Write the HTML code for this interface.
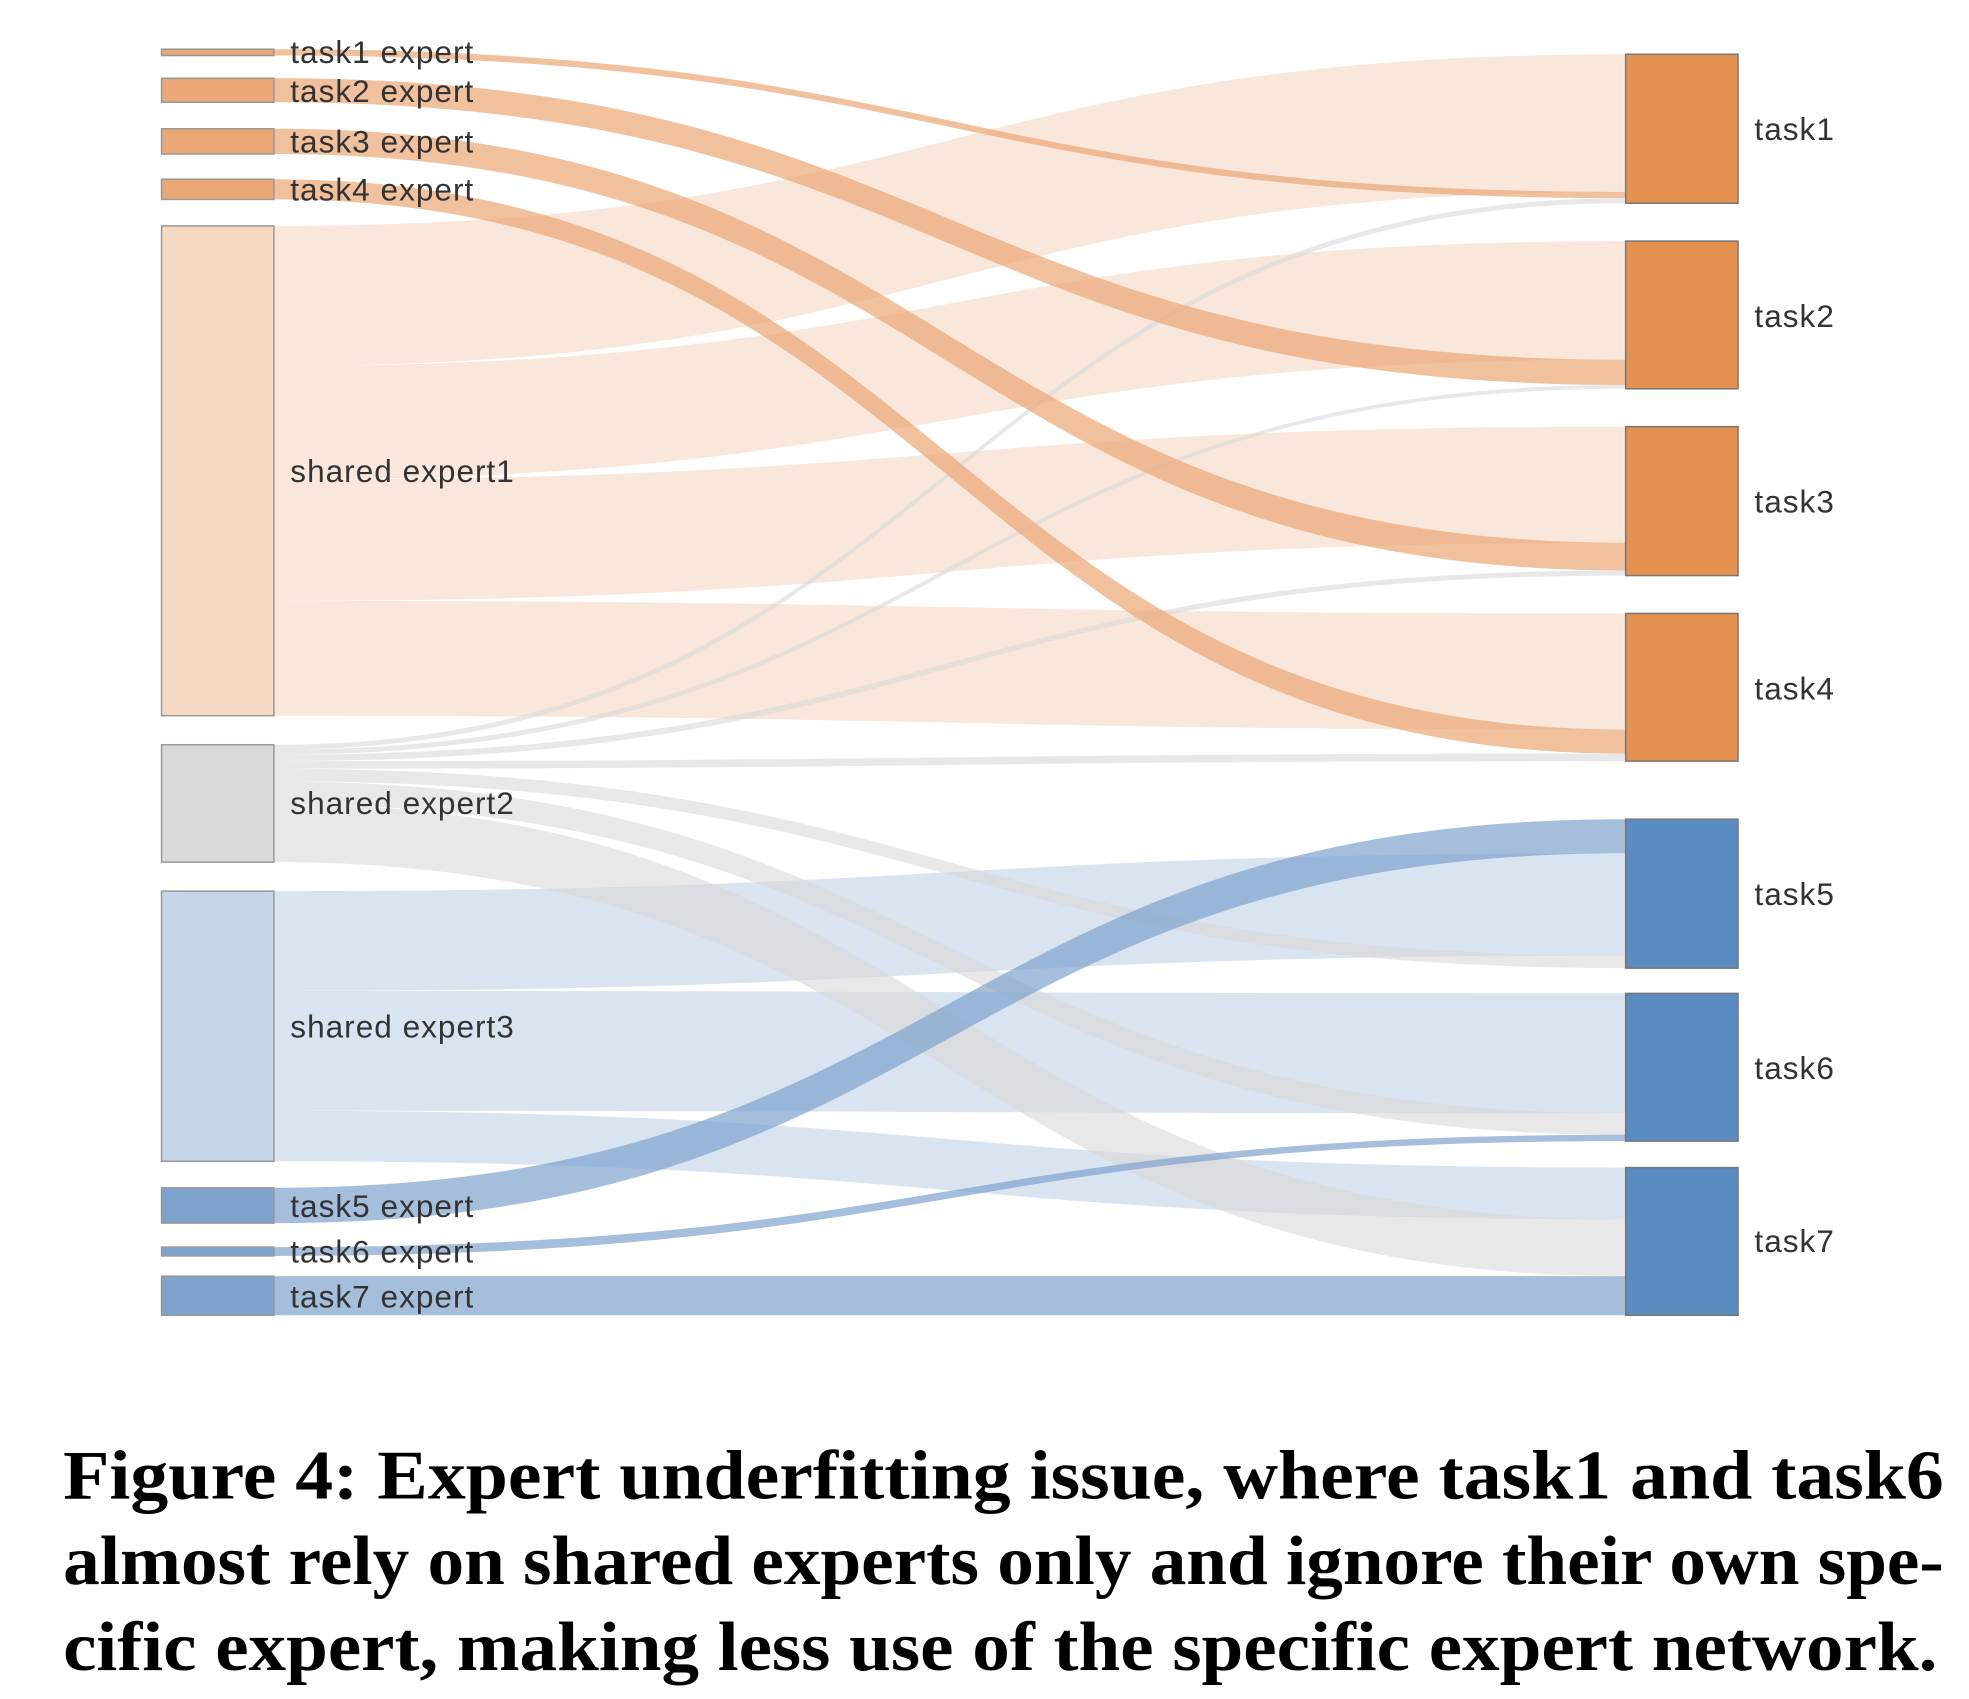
<!DOCTYPE html>
<html><head><meta charset="utf-8"><style>
html,body{margin:0;padding:0;background:#fff;width:1969px;height:1699px;overflow:hidden}
svg{display:block}
.l{font-family:"Liberation Sans",sans-serif;font-size:25px;letter-spacing:0.8px;fill:#333}
.c{font-family:"Liberation Serif",serif;font-weight:bold;font-size:55px;fill:#000}
</style></head><body>
<svg width="1969" height="1699" viewBox="0 0 1560 1346" preserveAspectRatio="none" xmlns="http://www.w3.org/2000/svg">
<g>
<path fill="#f7e4d6" opacity="0.9" d="M217,179 C752,179 752,43 1288,43 L1288,152 C752,152 752,290 217,290 Z"/>
<path fill="#f7e4d6" opacity="0.9" d="M217,290 C752,290 752,191 1288,191 L1288,285 C752,285 752,380 217,380 Z"/>
<path fill="#f7e4d6" opacity="0.9" d="M217,380 C752,380 752,338 1288,338 L1288,430 C752,430 752,476 217,476 Z"/>
<path fill="#f7e4d6" opacity="0.9" d="M217,476 C752,476 752,486 1288,486 L1288,578 C752,578 752,567 217,567 Z"/>
<path fill="#d8e3ef" opacity="0.95" d="M217,706 C752,706 752,676 1288,676 L1288,757 C752,757 752,785 217,785 Z"/>
<path fill="#d8e3ef" opacity="0.95" d="M217,785 C752,785 752,787 1288,787 L1288,882 C752,882 752,880 217,880 Z"/>
<path fill="#d8e3ef" opacity="0.95" d="M217,880 C752,880 752,925 1288,925 L1288,966 C752,966 752,920 217,920 Z"/>
<path fill="#d9d9d9" opacity="0.6" d="M217,590 C752,590 752,157 1288,157 L1288,161 C752,161 752,594 217,594 Z"/>
<path fill="#d9d9d9" opacity="0.6" d="M217,594 C752,594 752,305 1288,305 L1288,308 C752,308 752,598 217,598 Z"/>
<path fill="#d9d9d9" opacity="0.6" d="M217,598 C752,598 752,452 1288,452 L1288,456 C752,456 752,603 217,603 Z"/>
<path fill="#d9d9d9" opacity="0.6" d="M217,603 C752,603 752,597 1288,597 L1288,603 C752,603 752,609 217,609 Z"/>
<path fill="#d9d9d9" opacity="0.6" d="M217,609 C752,609 752,757 1288,757 L1288,767 C752,767 752,619 217,619 Z"/>
<path fill="#d9d9d9" opacity="0.6" d="M217,619 C752,619 752,882 1288,882 L1288,899 C752,899 752,637 217,637 Z"/>
<path fill="#d9d9d9" opacity="0.6" d="M217,637 C752,637 752,966 1288,966 L1288,1011 C752,1011 752,683 217,683 Z"/>
<path fill="#eba775" opacity="0.7" d="M217,39 C752,39 752,152 1288,152 L1288,157 C752,157 752,44 217,44 Z"/>
<path fill="#eba775" opacity="0.7" d="M217,62 C752,62 752,285 1288,285 L1288,305 C752,305 752,81 217,81 Z"/>
<path fill="#eba775" opacity="0.7" d="M217,102 C752,102 752,430 1288,430 L1288,452 C752,452 752,122 217,122 Z"/>
<path fill="#eba775" opacity="0.7" d="M217,142 C752,142 752,578 1288,578 L1288,597 C752,597 752,158 217,158 Z"/>
<path fill="#7ea3cd" opacity="0.7" d="M217,941 C752,941 752,649 1288,649 L1288,676 C752,676 752,969 217,969 Z"/>
<path fill="#7ea3cd" opacity="0.7" d="M217,988 C752,988 752,899 1288,899 L1288,904 C752,904 752,995 217,995 Z"/>
<path fill="#7ea3cd" opacity="0.7" d="M217,1011 C752,1011 752,1011 1288,1011 L1288,1042 C752,1042 752,1042 217,1042 Z"/>
</g>
<g stroke="#999" stroke-width="1.2">
<rect x="128" y="39" width="89" height="5" fill="#eba775"/>
<rect x="128" y="62" width="89" height="19" fill="#eba775"/>
<rect x="128" y="102" width="89" height="20" fill="#eba775"/>
<rect x="128" y="142" width="89" height="16" fill="#eba775"/>
<rect x="128" y="179" width="89" height="388" fill="#f5d9c3"/>
<rect x="128" y="590" width="89" height="93" fill="#d9d9d9"/>
<rect x="128" y="706" width="89" height="214" fill="#c6d6ea"/>
<rect x="128" y="941" width="89" height="28" fill="#7ea3cd"/>
<rect x="128" y="988" width="89" height="7" fill="#7ea3cd"/>
<rect x="128" y="1011" width="89" height="31" fill="#7ea3cd"/>
</g>
<g stroke="#777" stroke-width="1.2">
<rect x="1288" y="43" width="89" height="118" fill="#e5914f"/>
<rect x="1288" y="191" width="89" height="117" fill="#e5914f"/>
<rect x="1288" y="338" width="89" height="118" fill="#e5914f"/>
<rect x="1288" y="486" width="89" height="117" fill="#e5914f"/>
<rect x="1288" y="649" width="89" height="118" fill="#5a8bc1"/>
<rect x="1288" y="787" width="89" height="117" fill="#5a8bc1"/>
<rect x="1288" y="925" width="89" height="117" fill="#5a8bc1"/>
</g>
<g class="l">
<text x="230" y="50">task1 expert</text>
<text x="230" y="81">task2 expert</text>
<text x="230" y="121">task3 expert</text>
<text x="230" y="159">task4 expert</text>
<text x="230" y="382">shared expert1</text>
<text x="230" y="645">shared expert2</text>
<text x="230" y="822">shared expert3</text>
<text x="230" y="964">task5 expert</text>
<text x="230" y="1000">task6 expert</text>
<text x="230" y="1036">task7 expert</text>
<text x="1390" y="111">task1</text>
<text x="1390" y="259">task2</text>
<text x="1390" y="406">task3</text>
<text x="1390" y="554">task4</text>
<text x="1390" y="717">task5</text>
<text x="1390" y="855">task6</text>
<text x="1390" y="992">task7</text>
</g>
<g class="c">
<text x="50" y="1187" textLength="1490" lengthAdjust="spacingAndGlyphs">Figure 4: Expert underfitting issue, where task1 and task6</text>
<text x="50" y="1255" textLength="1490" lengthAdjust="spacingAndGlyphs">almost rely on shared experts only and ignore their own spe-</text>
<text x="50" y="1323" textLength="1485" lengthAdjust="spacingAndGlyphs">cific expert, making less use of the specific expert network.</text>
</g>
</svg>
</body></html>
